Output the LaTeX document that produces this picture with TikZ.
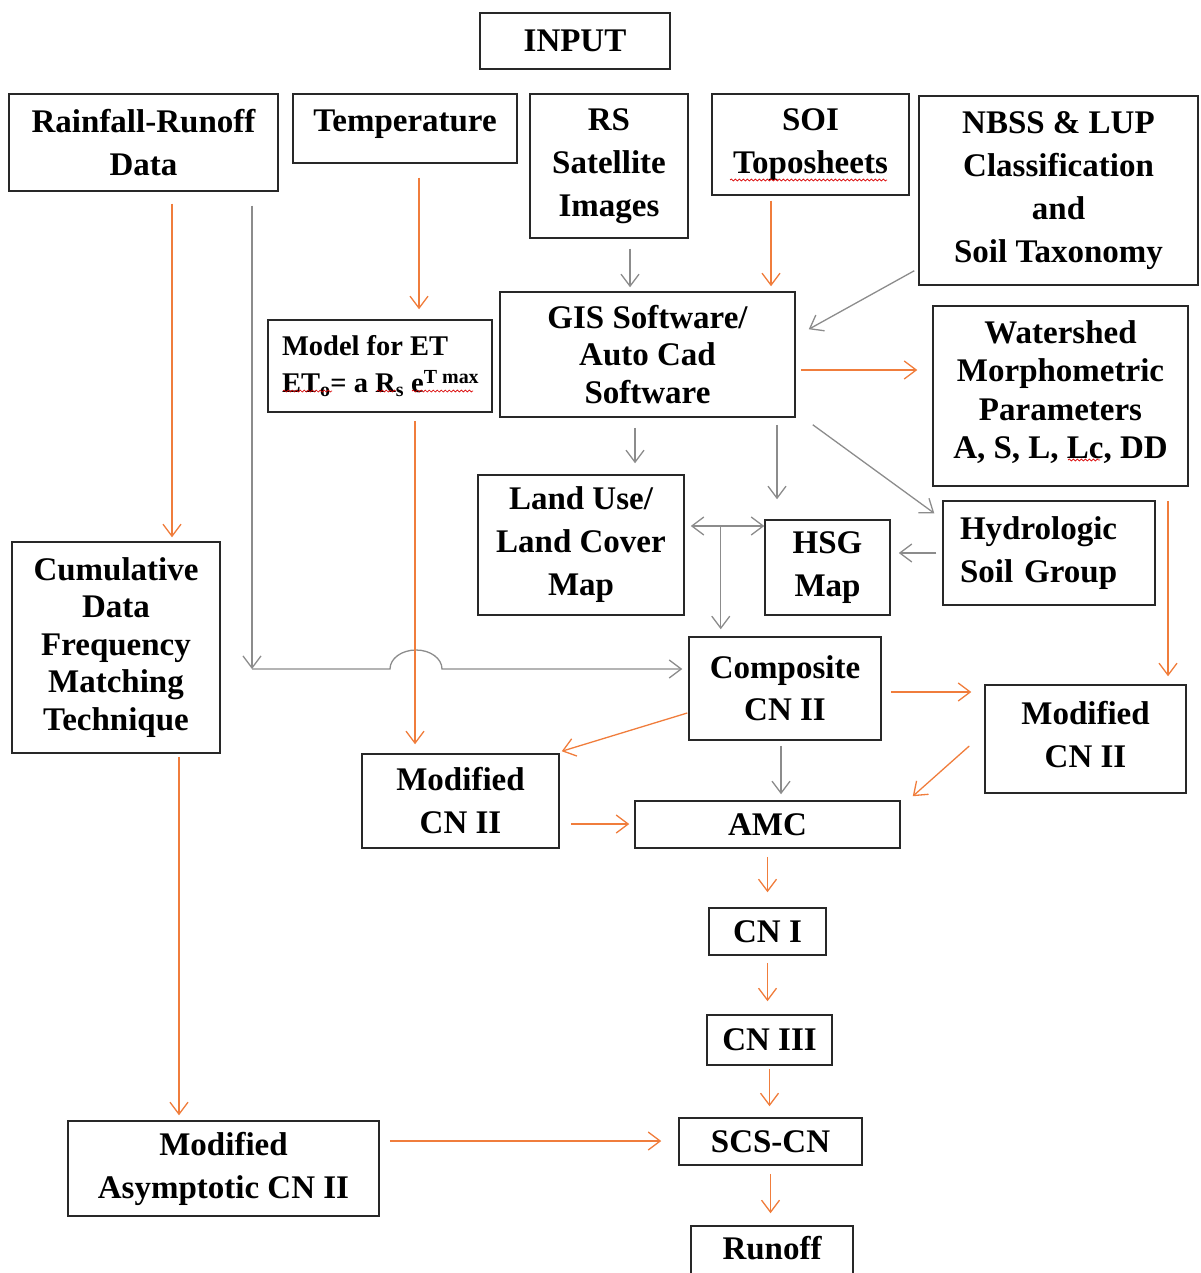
\documentclass[tikz,border=0pt]{standalone}
\usepackage{fontspec}
\setmainfont{Liberation Serif}
\usetikzlibrary{arrows.meta,calc,decorations.pathmorphing}
\definecolor{floworange}{RGB}{240,125,60}
\definecolor{flowgray}{RGB}{140,140,140}
\definecolor{boxline}{RGB}{40,40,40}
\tikzset{
  box/.style={draw=boxline, line width=1.5pt, align=center, inner sep=0pt,
    font=\bfseries\fontsize{33}{43}\selectfont},
  tight/.style={font=\bfseries\fontsize{33}{37.5}\selectfont},
  barb/.tip={Straight Barb[length=12pt,width=18pt,line width=1.3pt]},
  oarr/.style={draw=floworange, line width=1.3pt, -barb},
  garr/.style={draw=flowgray, line width=1.3pt, -barb},
  squig/.style={draw=red!85!black, line width=0.7pt,
    decorate, decoration={snake, segment length=4pt, amplitude=1pt}}
}
\begin{document}
\begin{tikzpicture}[x=1pt,y=-1pt]
\useasboundingbox (0,0) rectangle (1200,1273);

% ---------- boxes ----------
\node[box, minimum width=190pt, minimum height=56pt] (input) at (575,41) {INPUT};
\node[box, minimum width=269pt, minimum height=97pt] (rain) at (143.5,142.5) {Rainfall-Runoff\\Data};
\node[box, minimum width=224pt, minimum height=69pt, text depth=16pt] (temp) at (405,128.5) {Temperature};
\node[box, minimum width=158pt, minimum height=144pt] (rs) at (609,166) {RS\\Satellite\\Images};
\node[box, minimum width=197pt, minimum height=101pt] (soi) at (810.5,144.5) {SOI\\Toposheets};
\node[box, minimum width=279pt, minimum height=189pt] (nbss) at (1058.5,190.5) {NBSS \& LUP\\Classification\\and\\Soil Taxonomy};
\node[box, minimum width=224pt, minimum height=92pt, align=flush left, text width=196pt,
  font=\bfseries\fontsize{28.5}{37}\selectfont] (model) at (380,366)
  {\mbox{Model for ET}\\\mbox{ET\textsubscript{o}= a R\textsubscript{s} e\textsuperscript{T max}}};
\node[box, tight, minimum width=295pt, minimum height=125pt] (gis) at (647.5,354.5) {GIS Software/\\Auto Cad\\Software};
\node[box, minimum width=255pt, minimum height=180pt, font=\bfseries\fontsize{33}{38.3}\selectfont, text depth=13pt] (ws) at (1060.5,396)
  {Watershed\\Morphometric\\Parameters\\A, S, L, Lc, DD};
\node[box, minimum width=206pt, minimum height=140pt] (lu) at (581,545) {Land Use/\\Land Cover\\Map};
\node[box, minimum width=125pt, minimum height=95pt] (hsg) at (827.5,567.5) {HSG\\Map};
\node[box, minimum width=212pt, minimum height=104pt, align=left, text width=178pt] (hyd) at (1049,553) {Hydrologic\\Soil Group};
\node[box, tight, minimum width=208pt, minimum height=211pt] (cum) at (116,647.5) {Cumulative\\Data\\Frequency\\Matching\\Technique};
\node[box, minimum width=192pt, minimum height=103pt, font=\bfseries\fontsize{33}{42}\selectfont] (comp) at (785,688.5) {Composite\\CN II};
\node[box, minimum width=201pt, minimum height=108pt, text depth=10pt] (modR) at (1085.5,739) {Modified\\CN II};
\node[box, minimum width=197pt, minimum height=94pt] (modL) at (460.5,801) {Modified\\CN II};
\node[box, minimum width=265pt, minimum height=47pt] (amc) at (767.5,824.5) {AMC};
\node[box, minimum width=117pt, minimum height=47pt] (cn1) at (767.5,931.5) {CN I};
\node[box, minimum width=125pt, minimum height=50pt] (cn3) at (769.5,1040) {CN III};
\node[box, minimum width=183pt, minimum height=47pt] (scs) at (770.5,1141.5) {SCS-CN};
\node[box, minimum width=162pt, minimum height=56pt, text depth=12pt] (run) at (772,1254) {Runoff};
\node[box, minimum width=311pt, minimum height=95pt] (masym) at (223.5,1168.5) {Modified\\Asymptotic CN II};

% ---------- proofing marks ----------
\draw[squig] (730,180) -- (887,180);
\draw[squig] (283,391) -- (332,391);
\draw[squig] (377,391) -- (396,391);
\draw[squig] (412,391) -- (473,391);
\draw[squig] (1068,460) -- (1100,460);

% ---------- connectors ----------
% rainfall-runoff data
\coordinate (r1) at ([shift={(28.5,0)}]rain.south);
\draw[oarr, shorten <=12pt, shorten >=4pt] (r1) -- (r1 |- cum.north);
\coordinate (r2) at ([shift={(108.5,0)}]rain.south);
\coordinate (bend) at (252,669);
\draw[garr, shorten <=14pt] (r2) -- (bend);
\draw[garr, shorten >=6pt] (bend) -- ++(138,0)
  arc[start angle=180, end angle=360, x radius=26, y radius=19]
  -- (bend -| comp.west);

% temperature and ET model
\coordinate (t1) at ([shift={(14,0)}]temp.south);
\draw[oarr, shorten <=14pt, shorten >=10pt] (t1) -- (t1 |- model.north);
\coordinate (m1) at ([shift={(35,0)}]model.south);
\draw[oarr, shorten <=8pt, shorten >=9pt] (m1) -- (m1 |- modL.north);

% inputs to GIS
\coordinate (s1) at ([shift={(21,0)}]rs.south);
\draw[garr, shorten <=10pt, shorten >=4pt] (s1) -- (s1 |- gis.north);
\coordinate (s2) at ([shift={(-39.5,0)}]soi.south);
\draw[oarr, shorten <=5pt, shorten >=5pt] (s2) -- (s2 |- gis.north);
\draw[garr] ([shift={(-4,-15)}]nbss.south west) -- ([shift={(13,38)}]gis.north east);

% GIS outputs
\coordinate (g1) at ([shift={(0,15.5)}]gis.east);
\draw[oarr, shorten <=5pt, shorten >=15pt] (g1) -- (g1 -| ws.west);
\coordinate (g2) at ([shift={(-12.5,0)}]gis.south);
\draw[garr, shorten <=10pt, shorten >=11pt] (g2) -- (g2 |- lu.north);
\coordinate (g3) at ([shift={(129.5,0)}]gis.south);
\draw[garr, shorten <=7pt, shorten >=20pt] (g3) -- (g3 |- hsg.north);
\draw[garr] ([shift={(17,7)}]gis.south east) -- ([shift={(-8,13)}]hyd.north west);

% soil group and maps
\draw[garr, shorten <=6pt, shorten >=8pt] (hyd.west) -- (hyd.west -| hsg.east);
\coordinate (l1) at ([shift={(0,-19)}]lu.east);
\draw[draw=flowgray, line width=1.3pt, barb-barb, shorten <=6pt] (l1) -- (l1 -| hsg.west);
\coordinate (tee) at ([shift={(36,-19)}]lu.east);
\draw[garr, shorten >=7pt] (tee) -- (tee |- comp.north);

% curve numbers
\coordinate (w1) at ([shift={(107.5,0)}]ws.south);
\draw[oarr, shorten <=14pt, shorten >=8pt] (w1) -- (w1 |- modR.north);
\coordinate (c1) at ([shift={(0,3.5)}]comp.east);
\draw[oarr, shorten <=9pt, shorten >=13pt] (c1) -- (c1 -| modR.west);
\draw[oarr] ([shift={(-1,24.5)}]comp.west) -- ([shift={(2,-2)}]modL.north east);
\coordinate (c2) at ([shift={(-4,0)}]comp.south);
\draw[garr, shorten <=5pt, shorten >=6pt] (c2) -- (c2 |- amc.north);
\draw[oarr] ([shift={(-15,7)}]modR.west) -- ([shift={(12,-4)}]amc.north east);
\coordinate (ml) at ([shift={(0,23)}]modL.east);
\draw[oarr, shorten <=11pt, shorten >=5pt] (ml) -- (ml -| amc.west);

% main chain
\draw[oarr, shorten <=8pt, shorten >=15pt] (amc.south) -- (amc.south |- cn1.north);
\draw[oarr, shorten <=7pt, shorten >=13pt] (cn1.south) -- (cn1.south |- cn3.north);
\draw[oarr, shorten <=3pt, shorten >=11pt] (cn3.south) -- (cn3.south |- scs.north);
\draw[oarr, shorten <=8pt, shorten >=12pt] (scs.south) -- (scs.south |- run.north);

% frequency matching branch
\coordinate (f1) at ([shift={(63,0)}]cum.south);
\draw[oarr, shorten <=3pt, shorten >=5pt] (f1) -- (f1 |- masym.north);
\coordinate (a1) at ([shift={(0,-27.5)}]masym.east);
\draw[oarr, shorten <=10pt, shorten >=17pt] (a1) -- (a1 -| scs.west);
\end{tikzpicture}
\end{document}
